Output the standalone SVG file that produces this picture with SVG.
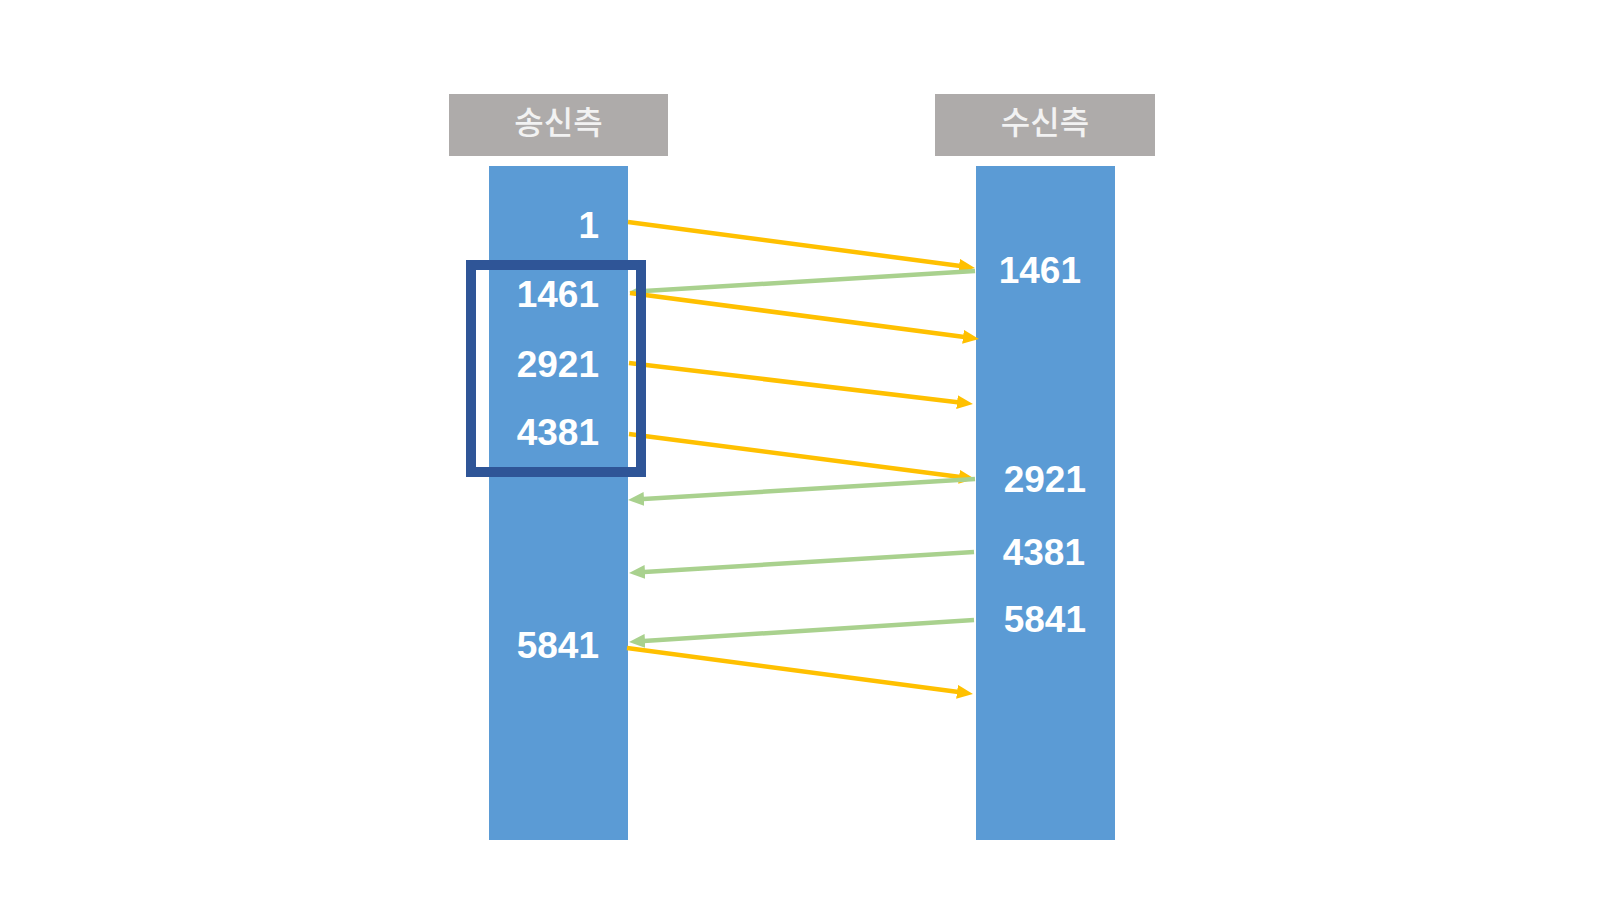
<svg xmlns="http://www.w3.org/2000/svg" width="1606" height="922" viewBox="0 0 1606 922">
  <style>
    .hdr { fill: #AEABAA; }
    .hdrtxt { font-family: "Noto Sans CJK KR", "Noto Sans", sans-serif; font-size: 32px; font-weight: 500; fill: #F2F2F2; text-anchor: middle; }
    .bar { fill: #5B9BD5; }
    .num { font-family: "Liberation Sans", Arial, sans-serif; font-size: 37px; font-weight: bold; fill: #FFFFFF; text-anchor: end; }
    .seg { stroke: #FFC000; stroke-width: 4.5; fill: none; marker-end: url(#ay); }
    .ack { stroke: #A9D18E; stroke-width: 4.5; fill: none; marker-end: url(#ag); }
    .frame { fill: none; stroke: #2F5597; stroke-width: 10; }
  </style>
  <defs>
    <marker id="ay" markerUnits="userSpaceOnUse" markerWidth="16" markerHeight="14" refX="9" refY="7" orient="auto">
      <path d="M0,0 L16,7 L0,14 z" fill="#FFC000"/>
    </marker>
    <marker id="ag" markerUnits="userSpaceOnUse" markerWidth="16" markerHeight="14" refX="9" refY="7" orient="auto">
      <path d="M0,0 L16,7 L0,14 z" fill="#A9D18E"/>
    </marker>
  </defs>
  <rect width="1606" height="922" fill="#FFFFFF"/>

  <g id="sender">
    <rect class="hdr" x="449" y="94" width="219" height="62"/>
    <text class="hdrtxt" x="558.5" y="134">송신측</text>
    <rect class="bar" x="489" y="166" width="139" height="674"/>
    <text class="num" x="599" y="238">1</text>
    <text class="num" x="599" y="307">1461</text>
    <text class="num" x="599" y="377">2921</text>
    <text class="num" x="599" y="445">4381</text>
    <text class="num" x="599" y="658">5841</text>
  </g>

  <g id="receiver">
    <rect class="hdr" x="935" y="94" width="220" height="62"/>
    <text class="hdrtxt" x="1045" y="134">수신측</text>
    <rect class="bar" x="976" y="166" width="139" height="674"/>
    <text class="num" x="1081" y="283">1461</text>
    <text class="num" x="1086" y="492">2921</text>
    <text class="num" x="1085" y="565">4381</text>
    <text class="num" x="1086" y="632">5841</text>
  </g>

  <g id="connectors">
    <line class="seg" x1="628" y1="222" x2="968" y2="267"/>
    <line class="ack" x1="975" y1="271" x2="636" y2="291.5"/>
    <line class="seg" x1="630" y1="293" x2="972" y2="338"/>
    <line class="seg" x1="629" y1="363" x2="966" y2="403.2"/>
    <line class="seg" x1="629" y1="434" x2="968" y2="478"/>
    <line class="ack" x1="975" y1="479" x2="635" y2="499.5"/>
    <line class="ack" x1="974" y1="552" x2="636" y2="572.5"/>
    <line class="ack" x1="974" y1="620" x2="636" y2="641.5"/>
    <line class="seg" x1="627" y1="648" x2="966" y2="693"/>
  </g>

  <g id="window">
    <rect class="frame" x="471" y="265" width="170" height="207"/>
  </g>
</svg>
